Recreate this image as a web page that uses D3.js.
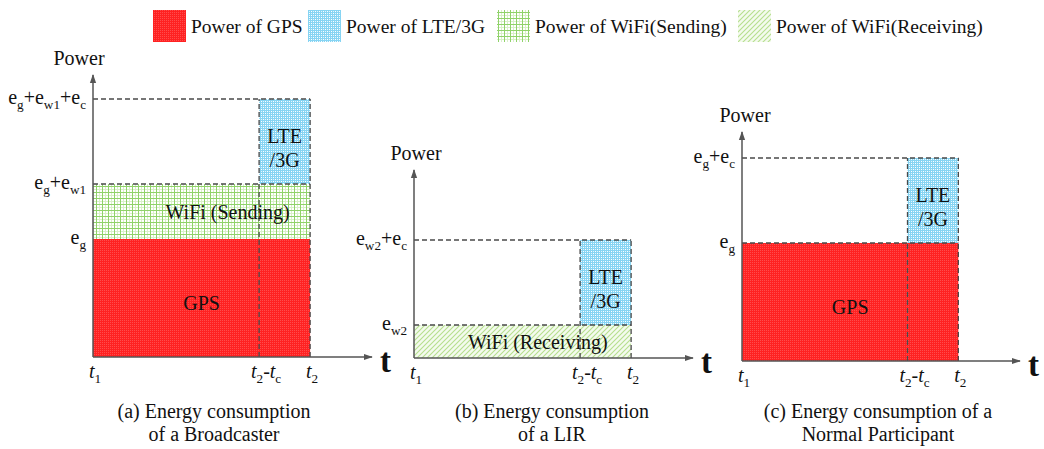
<!DOCTYPE html>
<html><head><meta charset="utf-8">
<script src="https://cdn.jsdelivr.net/npm/d3@7"></script>
<style>
html,body{margin:0;padding:0;background:#fff;}
svg{display:block;}
text{font-family:"Liberation Serif","Times New Roman",serif;fill:#111;}
</style></head>
<body><svg id="chart" width="1044" height="449"></svg>
<script>
// ---------------- data ----------------
const legendLabels = ["Power of GPS","Power of LTE/3G","Power of WiFi(Sending)","Power of WiFi(Receiving)"];
const legendKeys   = ["gps","lte","wifiSend","wifiRecv"];

// time marks (relative units, t1 = 0, t2 = 1)
const timeValues = [0, 0.765, 1];
const timeLabels = ["t_1", "t_2-t_c", "t_2"];
const timeAxisMax = 1.285;

// power components (relative units)
const eg = 118, ew1 = 55, ec = 85, ew2 = 33;

// panel (a) Broadcaster
const levelsA = [eg, eg + ew1, eg + ew1 + ec];
const levelLabelsA = ["e_g", "e_g+e_w1", "e_g+e_w1+e_c"];
const blocksA = [
  {key:"gps",      t0:0,     t1:1, p0:0,        p1:eg,            label:["GPS"]},
  {key:"wifiSend", t0:0,     t1:1, p0:eg,       p1:eg + ew1,      label:["WiFi (Sending)"]},
  {key:"lte",      t0:0.765, t1:1, p0:eg + ew1, p1:eg + ew1 + ec, label:["LTE","/3G"]}
];
// panel (b) LIR
const levelsB = [ew2, ew2 + ec];
const levelLabelsB = ["e_w2", "e_w2+e_c"];
const blocksB = [
  {key:"wifiRecv", t0:0,     t1:1, p0:0,   p1:ew2,      label:["WiFi (Receiving)"]},
  {key:"lte",      t0:0.765, t1:1, p0:ew2, p1:ew2 + ec, label:["LTE","/3G"]}
];
// panel (c) Normal participant
const levelsC = [eg, eg + ec];
const levelLabelsC = ["e_g", "e_g+e_c"];
const blocksC = [
  {key:"gps", t0:0,     t1:1, p0:0,  p1:eg,      label:["GPS"]},
  {key:"lte", t0:0.765, t1:1, p0:eg, p1:eg + ec, label:["LTE","/3G"]}
];
const captionsA = ["(a) Energy consumption", "of a Broadcaster"];
const captionsB = ["(b) Energy consumption", "of a LIR"];
const captionsC = ["(c) Energy consumption of a", "Normal Participant"];

// ---------------- layout ----------------
const panels = [
  {levels:levelsA, levelLabels:levelLabelsA, blocks:blocksA, captions:captionsA,
   x0:93,  base:357, width:279, yMax:282, powerDx:-14, captionX:214, labelOffset:{wifiSend:0.62}},
  {levels:levelsB, levelLabels:levelLabelsB, blocks:blocksB, captions:captionsB,
   x0:414, base:358, width:279, yMax:188, powerDx:2,   captionX:552, labelOffset:{wifiRecv:0.57}},
  {levels:levelsC, levelLabels:levelLabelsC, blocks:blocksC, captions:captionsC,
   x0:742, base:361, width:278, yMax:229, powerDx:3,   captionX:878, labelOffset:{}}
];

const svg = d3.select("#chart");
const defs = svg.append("defs");
const AX = "#555";

// patterns
const pGps = defs.append("pattern").attr("id","p-gps").attr("patternUnits","userSpaceOnUse").attr("width",2).attr("height",2);
pGps.append("rect").attr("width",2).attr("height",2).attr("fill","#ff2222");
pGps.append("rect").attr("width",1).attr("height",1).attr("fill","#ff4c4c");

const pLte = defs.append("pattern").attr("id","p-lte").attr("patternUnits","userSpaceOnUse").attr("width",4).attr("height",4);
pLte.append("rect").attr("width",4).attr("height",4).attr("fill","#86d4f3");
pLte.append("rect").attr("x",1).attr("y",1).attr("width",1).attr("height",1).attr("fill","#ffffff");
pLte.append("rect").attr("x",3).attr("y",3).attr("width",1).attr("height",1).attr("fill","#ffffff");
pLte.append("rect").attr("x",3).attr("y",1).attr("width",1).attr("height",1).attr("fill","#e2f5fd");
pLte.append("rect").attr("x",1).attr("y",3).attr("width",1).attr("height",1).attr("fill","#e2f5fd");

const pWs = defs.append("pattern").attr("id","p-wifiSend").attr("patternUnits","userSpaceOnUse").attr("width",6).attr("height",6);
pWs.append("rect").attr("width",6).attr("height",6).attr("fill","#ffffff");
pWs.append("rect").attr("x",3).attr("width",1).attr("height",6).attr("fill","#d9f0c9");
pWs.append("rect").attr("y",3).attr("width",6).attr("height",1).attr("fill","#d9f0c9");
pWs.append("rect").attr("x",0).attr("width",1).attr("height",6).attr("fill","#90d26a");
pWs.append("rect").attr("y",0).attr("width",6).attr("height",1).attr("fill","#90d26a");

const pWr = defs.append("pattern").attr("id","p-wifiRecv").attr("patternUnits","userSpaceOnUse").attr("width",5).attr("height",5);
pWr.append("rect").attr("width",5).attr("height",5).attr("fill","#f4fbee");
pWr.append("path").attr("d","M-1,6 L6,-1 M-1,1 L1,-1 M4,6 L6,4").attr("stroke","#b6df8e").attr("stroke-width",1.1);

// arrow marker
defs.append("marker").attr("id","arrow").attr("viewBox","0 0 10 10").attr("refX",9).attr("refY",5)
  .attr("markerWidth",6).attr("markerHeight",6).attr("orient","auto")
  .append("path").attr("d","M0,1.5 L10,5 L0,8.5 Z").attr("fill",AX);

// rich text: "_xx" => subscript; italicT => every 't' italic
function richText(sel, str, size, italicT) {
  const tokens = [];
  let i = 0;
  while (i < str.length) {
    if (str[i] === "_") {
      let j = i + 1; let s = "";
      while (j < str.length && /[a-z0-9]/i.test(str[j])) { s += str[j]; j++; }
      tokens.push({sub:true, text:s}); i = j;
    } else {
      let s = "";
      while (i < str.length && str[i] !== "_") { s += str[i]; i++; }
      if (italicT) {
        s.split(/(t)/).filter(d => d.length).forEach(p => tokens.push({sub:false, text:p, it:p === "t"}));
      } else tokens.push({sub:false, text:s});
    }
  }
  let shifted = 0;
  tokens.forEach(tk => {
    const ts = sel.append("tspan").text(tk.text);
    if (tk.sub) {
      ts.attr("font-size", size * 0.66).attr("dy", 5 - shifted); shifted = 5;
    } else {
      ts.attr("font-size", size);
      if (shifted) { ts.attr("dy", -shifted); shifted = 0; }
      if (tk.it) ts.attr("font-style","italic");
    }
  });
}

// legend
const legendX = [153, 308, 497, 738];
const lg = svg.append("g");
legendKeys.forEach((k, i) => {
  lg.append("rect").attr("x", legendX[i]).attr("y", 10).attr("width", 33).attr("height", 32)
    .attr("fill", `url(#p-${k})`);
  lg.append("text").attr("x", legendX[i] + 38).attr("y", 33).attr("font-size", 19.5).text(legendLabels[i]);
});

// panels
panels.forEach(P => {
  const x = d3.scaleLinear().domain([0, timeAxisMax]).range([P.x0, P.x0 + P.width]);
  const y = d3.scaleLinear().domain([0, P.yMax]).range([P.base, P.base - P.yMax]);
  const g = svg.append("g");

  // blocks
  g.selectAll("rect.blk").data(P.blocks).join("rect").attr("class","blk")
    .attr("x", d => x(d.t0)).attr("y", d => y(d.p1))
    .attr("width", d => x(d.t1) - x(d.t0)).attr("height", d => y(d.p0) - y(d.p1))
    .attr("fill", d => `url(#p-${d.key})`);

  const dash = {stroke:"#4a4a4a", "stroke-width":1.3, "stroke-dasharray":"5,3", fill:"none"};
  const lte = P.blocks.find(b => b.key === "lte");
  const hLevels = [lte.p0, lte.p1];
  hLevels.forEach(v => {
    const l = g.append("line").attr("x1", x(0)).attr("x2", x(timeValues[2]))
      .attr("y1", y(v)).attr("y2", y(v));
    Object.entries(dash).forEach(([k, val]) => l.attr(k, val));
  });
  [timeValues[1], timeValues[2]].forEach(t => {
    const l = g.append("line").attr("x1", x(t)).attr("x2", x(t))
      .attr("y1", y(0)).attr("y2", y(lte.p1));
    Object.entries(dash).forEach(([k, val]) => l.attr(k, val));
  });

  // axes
  g.append("line").attr("x1", x(0)).attr("x2", x(0)).attr("y1", y(0)).attr("y2", y(P.yMax))
    .attr("stroke", AX).attr("stroke-width", 1.5).attr("marker-end","url(#arrow)");
  g.append("line").attr("x1", x(0)).attr("x2", x(timeAxisMax)).attr("y1", y(0)).attr("y2", y(0))
    .attr("stroke", AX).attr("stroke-width", 1.5).attr("marker-end","url(#arrow)");

  // axis titles
  g.append("text").attr("x", x(0) + P.powerDx).attr("y", y(P.yMax) - 10)
    .attr("text-anchor","middle").attr("font-size", 20).text("Power");
  g.append("text").attr("x", x(timeAxisMax) + 8).attr("y", y(0) + 15)
    .attr("font-size", 33).attr("font-weight","bold").text("t");

  // y tick labels
  P.levels.forEach((v, i) => {
    const t = g.append("text").attr("x", x(0) - 7).attr("y", y(v) + 5).attr("text-anchor","end");
    richText(t, P.levelLabels[i], 20, false);
  });
  // x tick labels
  timeValues.forEach((v, i) => {
    const t = g.append("text").attr("x", x(v) + (i === 1 ? 7 : 2)).attr("y", y(0) + 21).attr("text-anchor","middle");
    richText(t, timeLabels[i], 20, true);
  });

  // block labels
  P.blocks.forEach(b => {
    const frac = P.labelOffset[b.key] !== undefined ? P.labelOffset[b.key] : 0.5;
    const cx = x(b.t0 + (b.t1 - b.t0) * frac);
    const cy = (y(b.p0) + y(b.p1)) / 2;
    if (b.label.length === 1) {
      g.append("text").attr("x", cx).attr("y", cy + (b.key === "gps" ? 12 : 7))
        .attr("text-anchor","middle").attr("font-size", 20).text(b.label[0]);
    } else {
      b.label.forEach((s, k) => {
        g.append("text").attr("x", cx).attr("y", cy + 1 + k * 24)
          .attr("text-anchor","middle").attr("font-size", 20).text(s);
      });
    }
  });

  // captions
  P.captions.forEach((s, k) => {
    svg.append("text").attr("x", P.captionX).attr("y", 418 + k * 23)
      .attr("text-anchor","middle").attr("font-size", 20).text(s);
  });
});
</script></body></html>
